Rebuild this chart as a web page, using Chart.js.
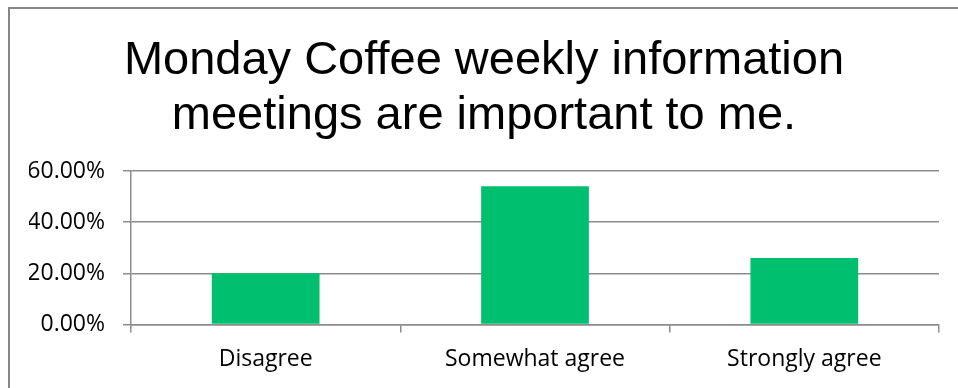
<!DOCTYPE html>
<html lang="en">
<head>
    <meta charset="UTF-8">
    <title>Monday Coffee survey</title>
    <script src="https://cdn.jsdelivr.net/npm/chart.js"></script>
    <style>
        body { margin: 0; background: white; }
        .frame {
            position: absolute;
            left: 8px;
            top: 7px;
            border-top: 2px solid #868686;
            border-left: 2px solid #868686;
        }
        canvas { display: block; }
    </style>
</head>
<body>
    <div class="frame">
        <canvas id="surveyChart" width="948" height="379"></canvas>
    </div>
    <script>
        const answers = ["Disagree", "Somewhat agree", "Strongly agree"];
        const shares = [0.20, 0.54, 0.26];
        const titleLines = ["Monday Coffee weekly information", "meetings are important to me."];

        const lineGray = "#8c8c8c";
        const labelFont = { family: "'Open Sans', sans-serif", size: 23 };

        new Chart(document.getElementById("surveyChart"), {
            type: "bar",
            data: {
                labels: answers,
                datasets: [{
                    data: shares,
                    backgroundColor: "#00bf6f",
                    barPercentage: 0.4,
                    categoryPercentage: 1.0
                }]
            },
            options: {
                responsive: false,
                animation: false,
                // equal side padding keeps the title centred on the canvas
                layout: { padding: { left: 19, right: 19, top: 0, bottom: 2 } },
                plugins: {
                    legend: { display: false },
                    tooltip: { enabled: false },
                    title: {
                        display: true,
                        text: titleLines,
                        color: "#000",
                        font: { family: "'Liberation Sans', Arial, sans-serif", size: 47, weight: "normal", lineHeight: 55 / 47 },
                        padding: { top: 25, bottom: 27 }
                    }
                },
                scales: {
                    x: {
                        grid: {
                            offset: true,
                            drawOnChartArea: false,
                            color: lineGray,
                            lineWidth: 1.5,
                            tickLength: 8
                        },
                        border: { color: lineGray, width: 1.5 },
                        ticks: { color: "#000", font: labelFont, padding: 13, maxRotation: 0 }
                    },
                    y: {
                        min: 0,
                        max: 0.6,
                        afterFit: scale => { scale.width = 102; },
                        grid: { color: lineGray, lineWidth: 1.5, tickLength: 8 },
                        border: { color: lineGray, width: 1.5 },
                        ticks: {
                            stepSize: 0.2,
                            color: "#000",
                            font: labelFont,
                            padding: 18,
                            callback: v => (v * 100).toFixed(2) + "%"
                        }
                    }
                }
            }
        });
    </script>
</body>
</html>
